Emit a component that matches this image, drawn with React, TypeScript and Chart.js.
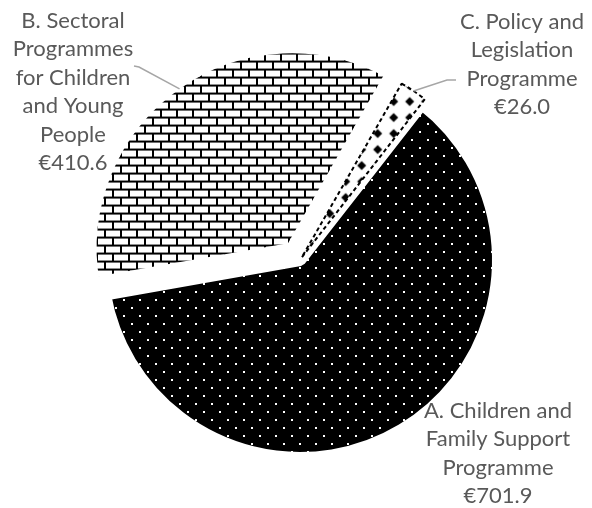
import React, { useEffect, useRef } from 'react';
import { Chart, registerables } from 'chart.js';

Chart.register(...registerables);

// ---- data ----
const categories = [
  'A. Children and Family Support Programme',
  'B. Sectoral Programmes for Children and Young People',
  'C. Policy and Legislation Programme',
];
const values = [701.9, 410.6, 26.0];
const labelLines = [
  ['A. Children and', 'Family Support', 'Programme'],
  ['B. Sectoral', 'Programmes', 'for Children', 'and Young', 'People'],
  ['C. Policy and', 'Legislation', 'Programme'],
];
const currencySymbol = '€';

// ---- style / layout (not data) ----
const W = 592;
const H = 508;
const PIE_RADIUS = 198;
const ROTATION = 38;
const SLICE_OFFSETS = [0, 56, 12];
const SLICE_BORDER = [12, 12, 2];
const SLICE_INSET = [6, 6, 0];
const TEXT_COLOR = '#595959';
const LEADER_COLOR = '#a6a6a6';
const FONT_SIZE = 22;
const LINE_HEIGHT = 28.4;
const FONT_FAMILY = 'Lato, "Open Sans", "DejaVu Sans", sans-serif';
const LABEL_POS = [
  { x: 498, y: 411 },
  { x: 73, y: 21 },
  { x: 522, y: 22 },
];
const LEADER_START: (null | { from: [number, number]; elbow: [number, number] })[] = [
  null,
  { from: [134, 66], elbow: [139, 67] },
  { from: [456, 80], elbow: [447, 80] },
];

function makePattern(draw: (g: CanvasRenderingContext2D) => void, size = 16) {
  const c = document.createElement('canvas');
  c.width = size;
  c.height = size;
  const g = c.getContext('2d') as CanvasRenderingContext2D;
  draw(g);
  return g.createPattern(c, 'repeat') as CanvasPattern;
}

const labelPlugin = {
  id: 'sliceLabels',
  afterDraw(chart: any) {
    const ctx: CanvasRenderingContext2D = chart.ctx;
    const meta = chart.getDatasetMeta(0);
    ctx.save();
    meta.data.forEach((arc: any, i: number) => {
      const p = arc.getProps(['x', 'y', 'startAngle', 'endAngle', 'outerRadius'], true);
      const mid = (p.startAngle + p.endAngle) / 2;
      const off = (SLICE_OFFSETS[i] || 0) / 4;
      const circ = p.endAngle - p.startAngle;
      const fix = 1 - Math.sin(Math.min(Math.PI, circ));
      const r = p.outerRadius + off * fix - SLICE_INSET[i];
      const ex = p.x + Math.cos(mid) * (off + r);
      const ey = p.y + Math.sin(mid) * (off + r);
      const leader = LEADER_START[i];
      if (leader) {
        ctx.beginPath();
        ctx.strokeStyle = LEADER_COLOR;
        ctx.lineWidth = 1.5;
        ctx.moveTo(leader.from[0], leader.from[1]);
        ctx.lineTo(leader.elbow[0], leader.elbow[1]);
        ctx.lineTo(ex, ey);
        ctx.stroke();
      }
      const lines = [...labelLines[i], `${currencySymbol}${values[i].toFixed(1)}`];
      ctx.font = `${FONT_SIZE}px ${FONT_FAMILY}`;
      ctx.fillStyle = TEXT_COLOR;
      ctx.textAlign = 'center';
      ctx.textBaseline = 'middle';
      lines.forEach((t, k) => {
        ctx.fillText(t, LABEL_POS[i].x, LABEL_POS[i].y + k * LINE_HEIGHT);
      });
    });
    ctx.restore();
  },
};

export default function App() {
  const ref = useRef<HTMLCanvasElement | null>(null);
  useEffect(() => {
    if (!ref.current) return;
    const dots = makePattern((g) => {
      g.fillStyle = '#000';
      g.fillRect(0, 0, 16, 16);
      g.fillStyle = '#fff';
      g.fillRect(3, 3, 2, 2);
      g.fillRect(11, 11, 2, 2);
    });
    const bricks = makePattern((g) => {
      g.fillStyle = '#fff';
      g.fillRect(0, 0, 16, 16);
      g.fillStyle = '#000';
      g.fillRect(0, 0, 16, 2);
      g.fillRect(0, 8, 16, 2);
      g.fillRect(0, 0, 2, 8);
      g.fillRect(8, 8, 2, 8);
    });
    const diamonds = makePattern((g) => {
      g.fillStyle = '#fff';
      g.fillRect(0, 0, 16, 16);
      g.fillStyle = '#000';
      g.beginPath();
      g.moveTo(8, 3.5);
      g.lineTo(12.5, 8);
      g.lineTo(8, 12.5);
      g.lineTo(3.5, 8);
      g.closePath();
      g.fill();
    });
    const chart = new Chart(ref.current, {
      type: 'pie',
      data: {
        labels: categories,
        datasets: [
          {
            data: values,
            backgroundColor: [dots, bricks, diamonds],
            borderColor: ['#ffffff', '#ffffff', '#000000'],
            borderWidth: SLICE_BORDER,
            borderDash: (c: any) => (c.dataIndex === 2 ? [4, 3] : []),
            offset: SLICE_OFFSETS,
            hoverOffset: 0,
            radius: PIE_RADIUS,
            rotation: ROTATION,
          } as any,
        ],
      },
      options: {
        responsive: false,
        animation: false,
        events: [],
        rotation: ROTATION,
        layout: { padding: { left: 8, top: 12, right: 0, bottom: 0 } },
        plugins: {
          legend: { display: false },
          tooltip: { enabled: false },
        },
      } as any,
      plugins: [labelPlugin],
    });
    return () => chart.destroy();
  }, []);
  return (
    <div style={{ position: 'fixed', left: 0, top: 0, width: W, height: H, background: '#fff' }}>
      <canvas ref={ref} width={W} height={H} style={{ display: 'block' }} />
    </div>
  );
}
